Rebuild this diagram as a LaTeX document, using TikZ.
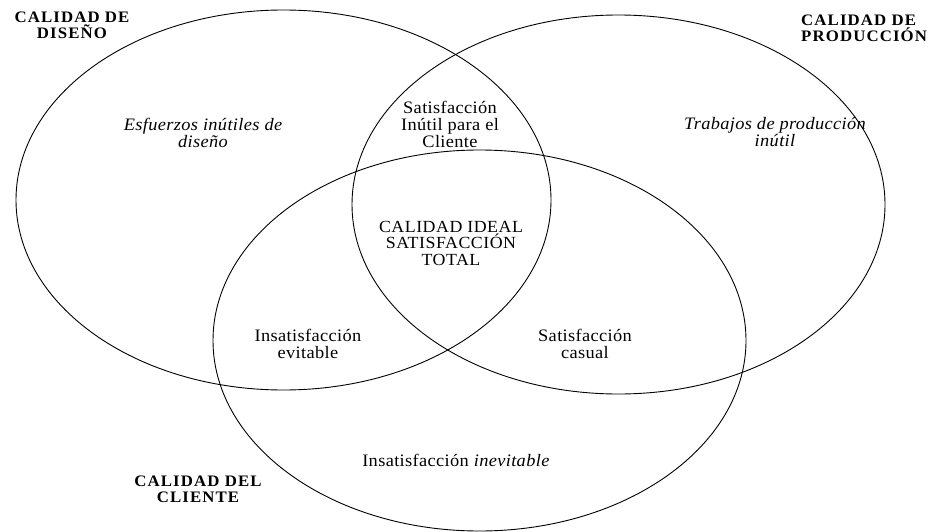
\documentclass[tikz,border=0pt]{standalone}
\usepackage{fontspec}
\setmainfont{Liberation Serif}
\newfontfamily\lowsp[LetterSpace=2,FakeStretch=1.05]{Liberation Serif}
\newfontfamily\capsp[LetterSpace=3,FakeStretch=1.05]{Liberation Serif}
\newfontfamily\boldsp[LetterSpace=7,FakeStretch=1.05]{Liberation Serif}
\begin{document}
\begin{tikzpicture}[x=1pt,y=-1pt,
  venn/.style={draw=black,line width=0.9pt},
  lbl/.style={inner sep=0pt,align=center,font=\lowsp\fontsize{17.5}{17}\selectfont},
  caplbl/.style={inner sep=0pt,align=center,font=\capsp\fontsize{17}{16.5}\selectfont},
  title/.style={inner sep=0pt,align=center,font=\boldsp\bfseries\fontsize{16}{16}\selectfont}]
\useasboundingbox (0,0) rectangle (936,532);
% circles
\draw[venn] (283.5,200) ellipse [x radius=267.5, y radius=190];
\draw[venn] (618.5,204.5) ellipse [x radius=266.5, y radius=189.5];
\draw[venn] (479.5,340.5) ellipse [x radius=266.5, y radius=190.5];
% titles
\node[title] (tdis) at (72,25) {CALIDAD DE\\DISEÑO};
\node[title,align=left,anchor=west] (tprod) at (801,28.5) {CALIDAD DE\\PRODUCCIÓN};
\node[title] (tcli) at (198,489) {CALIDAD DEL\\CLIENTE};
% region texts
\node[lbl] (esf) at (203,133) {\itshape Esfuerzos inútiles de\\\itshape diseño};
\node[lbl] (trab) at (775,132) {\itshape Trabajos de producción\\\itshape inútil};
\node[lbl] (sic) at (450,124) {Satisfacción\\Inútil para el\\Cliente};
\node[caplbl] (ideal) at (451,243) {CALIDAD IDEAL\\SATISFACCIÓN\\TOTAL};
\node[lbl] (ievit) at (308,343.5) {Insatisfacción\\evitable};
\node[lbl] (scas) at (585,343.5) {Satisfacción\\casual};
\node[lbl] (iinev) at (456,460) {Insatisfacción \textit{inevitable}};
\end{tikzpicture}
\end{document}
